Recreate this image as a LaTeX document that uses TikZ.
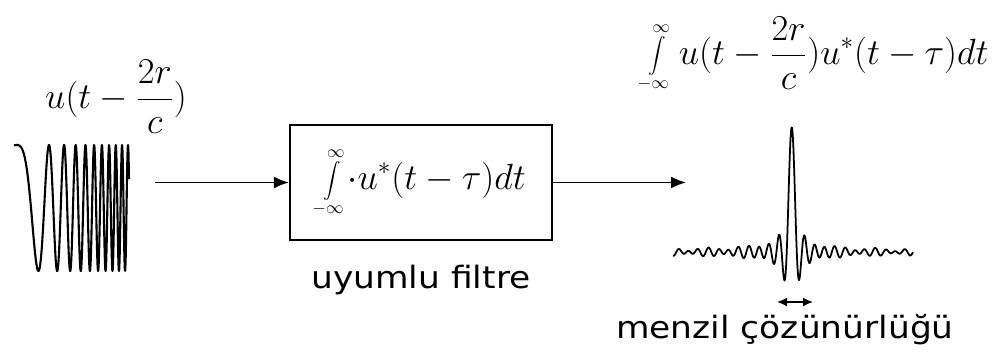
\documentclass[tikz,border=0pt]{standalone}
\usepackage{fontspec}
\setsansfont{DejaVu Sans}[FakeStretch=1.12]
\usetikzlibrary{arrows.meta}
\tikzset{
    sig/.style={line width=1.2pt, line join=round},
    conn/.style={line width=1pt, -{Latex[length=3mm,width=2.4mm]}},
    lbl/.style={font=\sffamily\fontsize{17.5}{20}\selectfont},
    eq/.style={font=\fontsize{20}{24}\selectfont},
}
\newcommand{\fullint}{\int\limits_{\scriptscriptstyle-\infty}^{\scriptscriptstyle\infty}}
\begin{document}
\begin{tikzpicture}[x=0.02cm,y=-0.02cm]
        \useasboundingbox (0,0) rectangle (995,353);
        \draw[sig] plot[domain=-3:112, samples=600] ({17+\x}, {208-63*cos(2.664*\x+0.2682*\x*\x)});
        \node[eq] (inlbl) at (116,97) {$\displaystyle u(t-\frac{2r}{c})$};
        \node[draw, line width=1.3pt, minimum width=5.24cm, minimum height=2.3cm] (filt) at (421,182.5) {};
        \node[eq] (filteq) at (filt) {$\displaystyle \fullint\!\cdot u^{*}(t-\tau)dt$};
        \node[lbl] (filtname) at (421,280) {uyumlu filtre};
        \coordinate (chirpout) at (155,182.5);
        \coordinate (pulsein) at (686,182.5);
        \draw[conn] (chirpout) -- (filt);
        \draw[conn] (filt) -- (pulsein);
        \node[eq, font=\fontsize{19.5}{23}\selectfont] (outlbl) at (815,54) {$\displaystyle \fullint u(t-\frac{2r}{c})u^{*}(t-\tau)dt$};
        \draw[sig, line width=1pt] plot[domain=-119:121, samples=481]
            ({792+\x}, {252-125*sin(36*(\x+0.25))/(0.6283*(\x+0.25))-3*sin(31*\x)*sin(5*\x)});
        \coordinate (resl) at (777,302);
        \coordinate (resr) at (813,302);
        \draw[line width=0.9pt, {Latex[length=2mm,width=1.8mm]}-{Latex[length=2mm,width=1.8mm]}] (resl) -- (resr);
        \node[lbl] (reslbl) at (785,330) {menzil çözünürlüğü};
    \end{tikzpicture}
\end{document}
